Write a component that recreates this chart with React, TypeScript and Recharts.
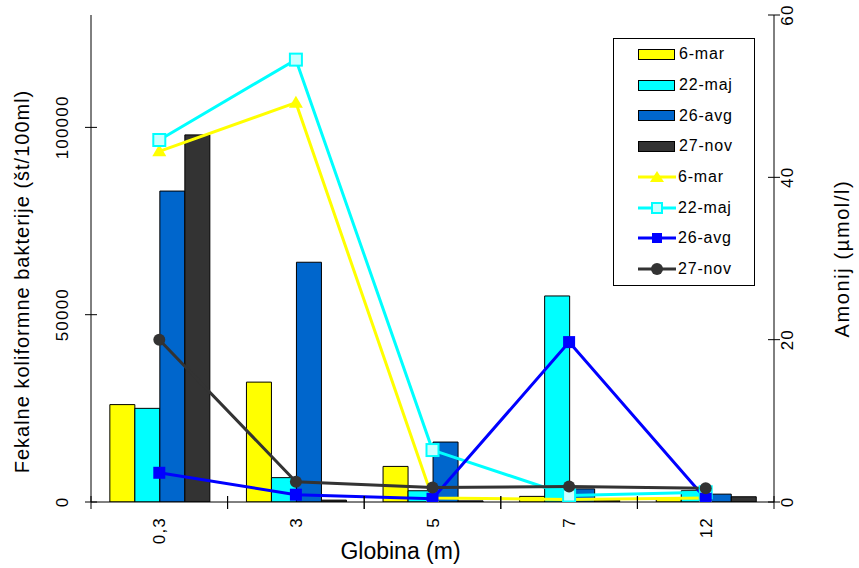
import { Bar, ComposedChart, Legend, Line, XAxis, YAxis } from "recharts";

const depths = ["0,3", "3", "5", "7", "12"];
const dates = ["6-mar", "22-maj", "26-avg", "27-nov"];

// fekalne koliformne bakterije (št/100ml)
const bacteriaMar = [26000, 32000, 9500, 1500, 1000];
const bacteriaMaj = [25000, 6500, 3000, 55000, 3000];
const bacteriaAvg = [83000, 64000, 16000, 3500, 2100];
const bacteriaNov = [98000, 500, 300, 500, 1400];

// amonij (µmol/l)
const amonijMar = [43.2, 49.2, 0.5, 0.3, 0.5];
const amonijMaj = [44.6, 54.5, 6.4, 0.8, 1.2];
const amonijAvg = [3.6, 0.9, 0.4, 19.7, 0.4];
const amonijNov = [20, 2.5, 1.8, 1.9, 1.7];

const leftTicks = [0, 50000, 100000];
const rightTicks = [0, 20, 40, 60];

const data = depths.map((depth, i) => ({
    depth,
    bMar: bacteriaMar[i],
    bMaj: bacteriaMaj[i],
    bAvg: bacteriaAvg[i],
    bNov: bacteriaNov[i],
    aMar: amonijMar[i],
    aMaj: amonijMaj[i],
    aAvg: amonijAvg[i],
    aNov: amonijNov[i],
}));

const FONT = '"Liberation Sans", Arial, sans-serif';
const barColors = ["#FFFF00", "#00FFFF", "#0066CC", "#333333"];
const lineColors = ["#FFFF00", "#00FFFF", "#0000FF", "#333333"];

const W = 859;
const H = 568;
const LEFT_W = 91;
const RIGHT_W = 85;
const TOP = 15;
const BOTTOM = 65;
const plotMidX = (LEFT_W + W - RIGHT_W) / 2;
const plotMidY = (TOP + H - BOTTOM - 1) / 2;

function LeftTick({ x, y, payload }: any) {
    const tx = x - 23;
    return (
        <g>
            <line x1={x - 6} x2={x + 6} y1={y} y2={y} stroke="#000" />
            <text x={tx} y={y} transform={`rotate(-90, ${tx}, ${y})`} textAnchor="middle" fontSize={17} letterSpacing={1.2} fontFamily={FONT} fill="#000">
                {payload.value}
            </text>
        </g>
    );
}

function RightTick({ x, y, payload }: any) {
    const tx = x + 19;
    return (
        <g>
            <line x1={x - 6} x2={x + 6} y1={y} y2={y} stroke="#000" />
            <text x={tx} y={y} transform={`rotate(-90, ${tx}, ${y})`} textAnchor="middle" fontSize={17} letterSpacing={1.2} fontFamily={FONT} fill="#000">
                {payload.value}
            </text>
        </g>
    );
}

// category label plus tick marks on the band edges (offset = half band width)
function DepthTick({ x, y, payload }: any) {
    const tx = x + 6;
    const ty = y + 15;
    const half = payload.offset || 0;
    return (
        <g>
            <line x1={x - half} x2={x - half} y1={y - 6} y2={y + 7} stroke="#000" />
            <line x1={x + half} x2={x + half} y1={y - 6} y2={y + 7} stroke="#000" />
            <text x={tx} y={ty} transform={`rotate(-90, ${tx}, ${ty})`} textAnchor="end" fontSize={17} letterSpacing={1.2} fontFamily={FONT} fill="#000">
                {payload.value}
            </text>
        </g>
    );
}

const triangleDot = (p: any) => (
    <polygon key={`t${p.index}`} points={`${p.cx},${p.cy - 7} ${p.cx - 7},${p.cy + 5} ${p.cx + 7},${p.cy + 5}`} fill="#FFFF00" />
);
const openSquareDot = (p: any) => (
    <rect key={`o${p.index}`} x={p.cx - 6} y={p.cy - 6} width={12} height={12} fill="#CCFFFF" stroke="#00FFFF" strokeWidth={2} />
);
const squareDot = (p: any) => (
    <rect key={`s${p.index}`} x={p.cx - 6} y={p.cy - 6} width={12} height={12} fill="#0000FF" />
);
const circleDot = (p: any) => <circle key={`c${p.index}`} cx={p.cx} cy={p.cy} r={6} fill="#333333" />;

function LineSwatch({ i }: { i: number }) {
    const c = lineColors[i];
    return (
        <svg width={38} height={16}>
            <line x1={0} x2={38} y1={8} y2={8} stroke={c} strokeWidth={3} />
            {i === 0 && <polygon points="19,2 12,13 26,13" fill={c} />}
            {i === 1 && <rect x={14} y={3} width={10} height={10} fill="#CCFFFF" stroke={c} strokeWidth={2} />}
            {i === 2 && <rect x={14} y={3} width={10} height={10} fill={c} />}
            {i === 3 && <circle cx={19} cy={8} r={6} fill={c} />}
        </svg>
    );
}

function LegendBox() {
    const row = { height: 30.7, display: "flex", alignItems: "center", paddingLeft: 24 } as const;
    const label = { marginLeft: 4, fontSize: 16, letterSpacing: 0.8, color: "#000" };
    return (
        <div style={{ border: "1px solid #000", background: "#fff", width: 140, fontFamily: FONT }}>
            {dates.map((d, i) => (
                <div key={`b${d}`} style={row}>
                    <div style={{ width: 35, height: 9, background: barColors[i], border: "1px solid #000" }} />
                    <span style={label}>{d}</span>
                </div>
            ))}
            {dates.map((d, i) => (
                <div key={`l${d}`} style={row}>
                    <LineSwatch i={i} />
                    <span style={{ ...label, marginLeft: 2 }}>{d}</span>
                </div>
            ))}
        </div>
    );
}

export default function App() {
    return (
        <div style={{ position: "absolute", left: 0, top: 0, width: W, height: H, background: "#fff" }}>
            <ComposedChart
                width={W}
                height={H}
                data={data}
                margin={{ top: TOP, right: 0, bottom: BOTTOM, left: 0 }}
                barCategoryGap="13.8%"
                barGap={0}
            >
                <XAxis dataKey="depth" height={1} axisLine={{ stroke: "#000" }} tickLine={false} tickSize={0} tickMargin={0} tick={DepthTick} interval={0} />
                <YAxis yAxisId="left" orientation="left" width={LEFT_W} domain={[0, 130000]} ticks={leftTicks} allowDataOverflow axisLine={{ stroke: "#000" }} tickLine={false} tickSize={0} tickMargin={0} tick={LeftTick} interval={0} />
                <YAxis yAxisId="right" orientation="right" width={RIGHT_W} domain={[0, 60]} ticks={rightTicks} allowDataOverflow axisLine={{ stroke: "#000" }} tickLine={false} tickSize={0} tickMargin={0} tick={RightTick} interval={0} />
                <Legend layout="vertical" align="center" verticalAlign="middle" wrapperStyle={{ left: 613, top: 38, width: 142 }} content={() => <LegendBox />} />
                <Bar yAxisId="left" dataKey="bMar" name="6-mar" fill={barColors[0]} stroke="#000" strokeWidth={1} isAnimationActive={false} />
                <Bar yAxisId="left" dataKey="bMaj" name="22-maj" fill={barColors[1]} stroke="#000" strokeWidth={1} isAnimationActive={false} />
                <Bar yAxisId="left" dataKey="bAvg" name="26-avg" fill={barColors[2]} stroke="#000" strokeWidth={1} isAnimationActive={false} />
                <Bar yAxisId="left" dataKey="bNov" name="27-nov" fill={barColors[3]} stroke="#000" strokeWidth={1} isAnimationActive={false} />
                <Line yAxisId="right" type="linear" dataKey="aMar" name="6-mar" stroke={lineColors[0]} strokeWidth={3} dot={triangleDot} activeDot={false} isAnimationActive={false} />
                <Line yAxisId="right" type="linear" dataKey="aMaj" name="22-maj" stroke={lineColors[1]} strokeWidth={3} dot={openSquareDot} activeDot={false} isAnimationActive={false} />
                <Line yAxisId="right" type="linear" dataKey="aAvg" name="26-avg" stroke={lineColors[2]} strokeWidth={3} dot={squareDot} activeDot={false} isAnimationActive={false} />
                <Line yAxisId="right" type="linear" dataKey="aNov" name="27-nov" stroke={lineColors[3]} strokeWidth={3} dot={circleDot} activeDot={false} isAnimationActive={false} />
                <text x={29} y={plotMidY + 23} transform={`rotate(-90, 29, ${plotMidY + 23})`} textAnchor="middle" fontSize={20} letterSpacing={1.0} fontFamily={FONT} fill="#000">
                    Fekalne koliformne bakterije (št/100ml)
                </text>
                <text x={849} y={plotMidY} transform={`rotate(-90, 849, ${plotMidY})`} textAnchor="middle" fontSize={20} letterSpacing={1.6} fontFamily={FONT} fill="#000">
                    Amonij (µmol/l)
                </text>
                <text x={plotMidX - 32} y={559} textAnchor="middle" fontSize={23} fontFamily={FONT} fill="#000">
                    Globina (m)
                </text>
            </ComposedChart>
        </div>
    );
}
